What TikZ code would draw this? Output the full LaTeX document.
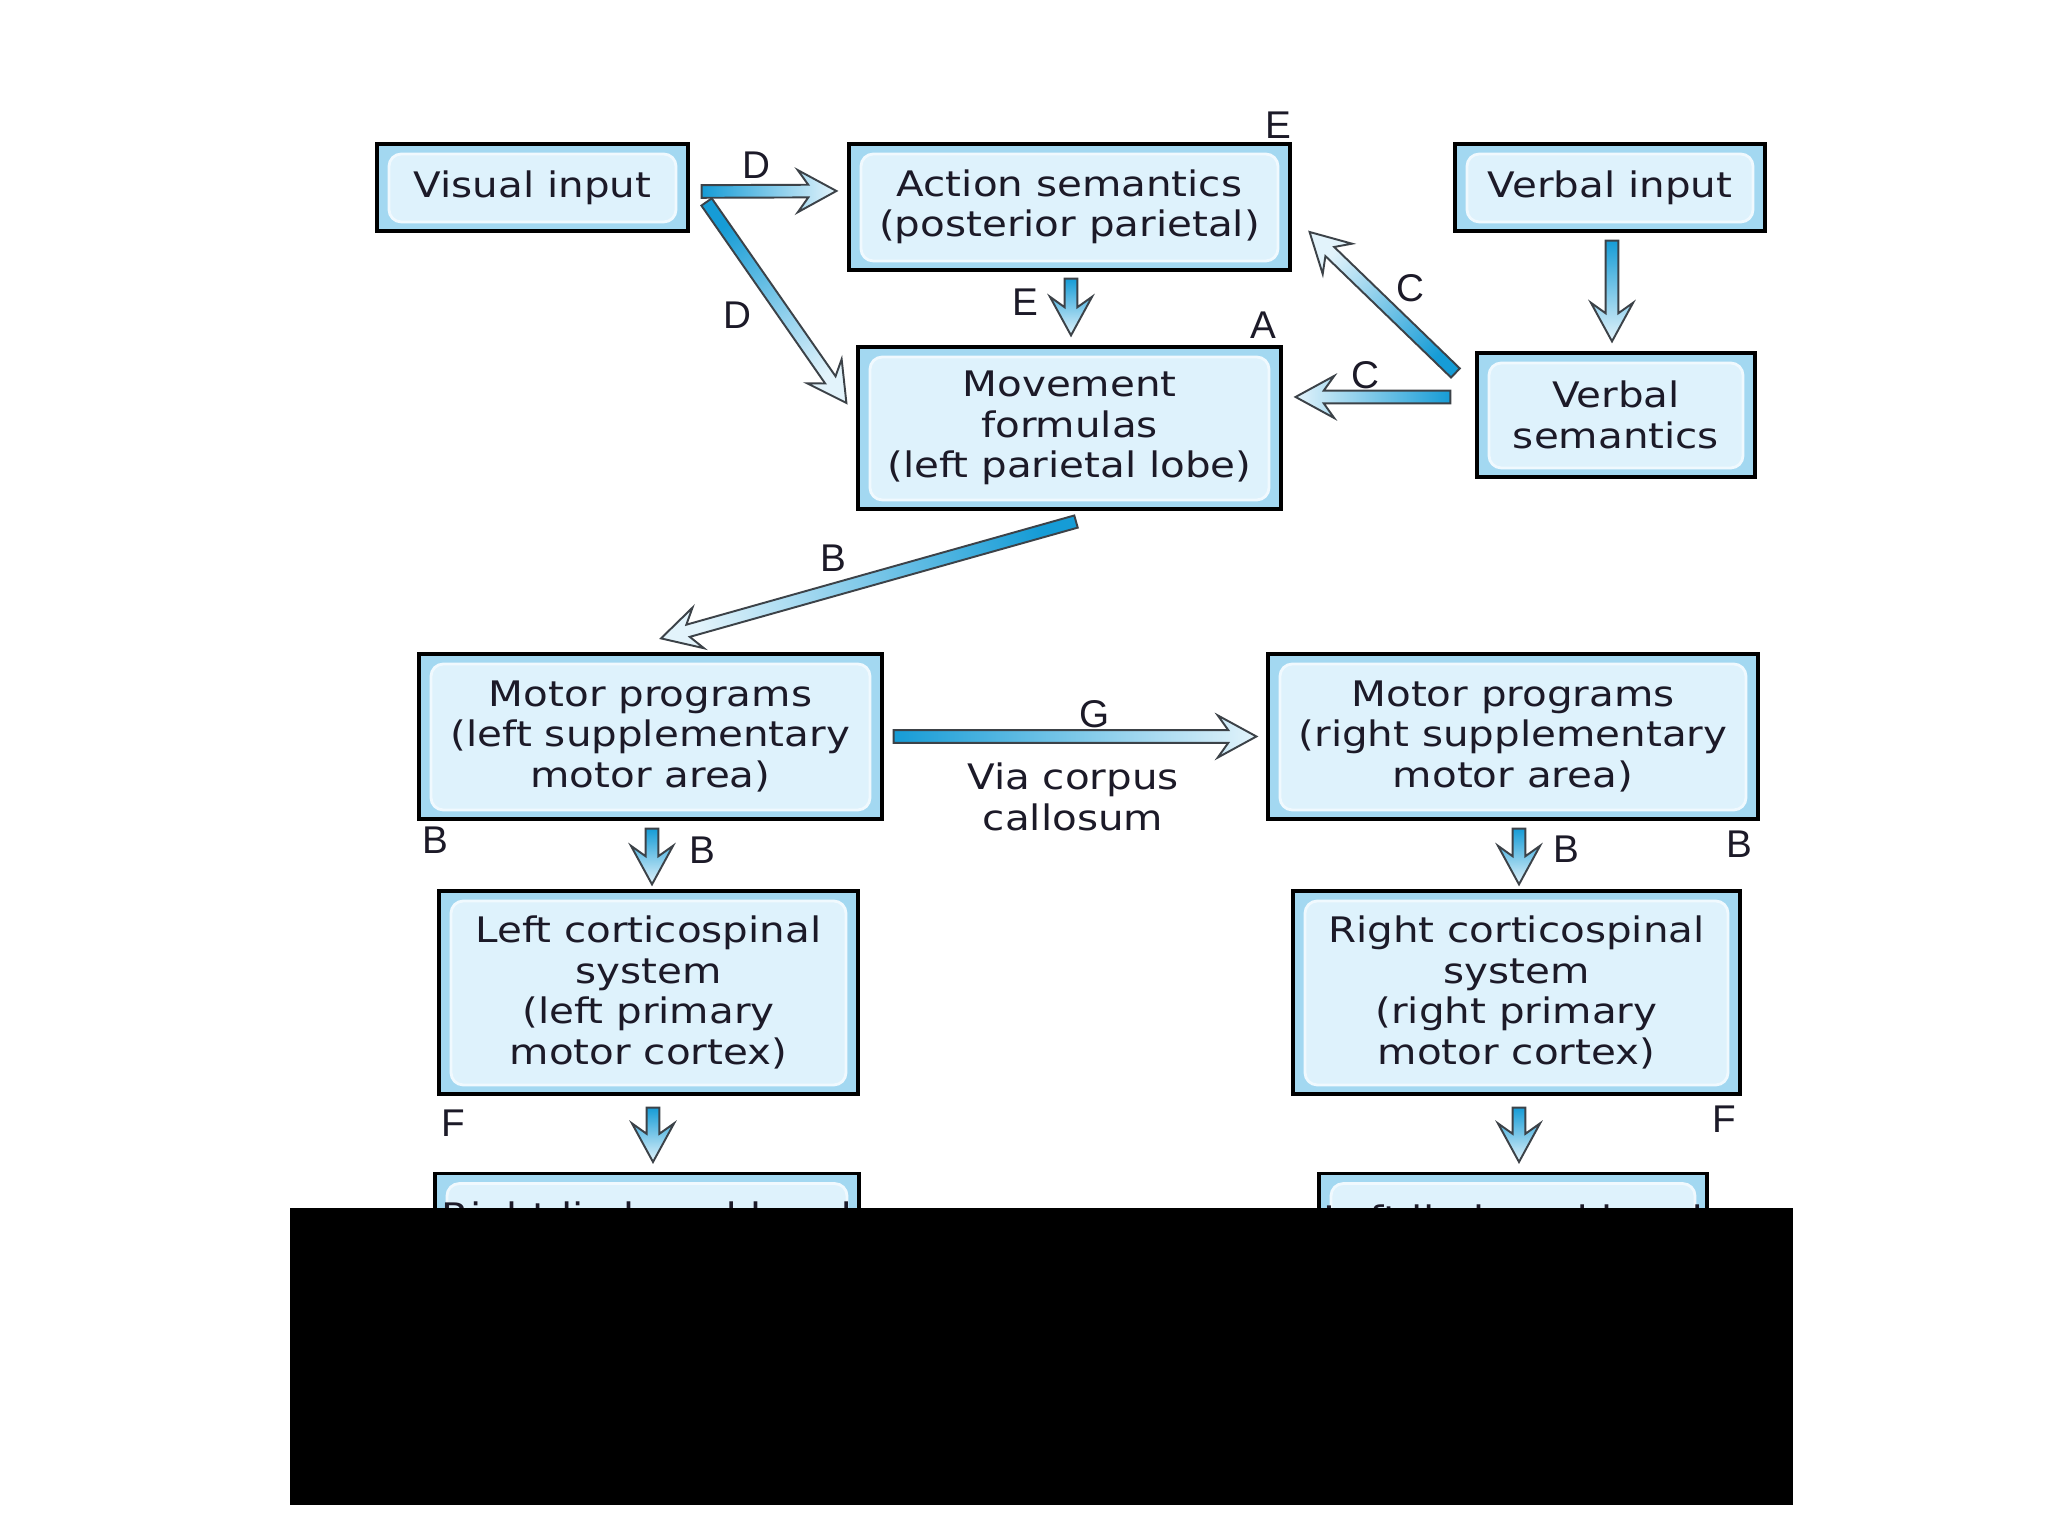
\documentclass[tikz,border=0pt]{standalone}
\usepackage{fontspec}
\usepackage{tikz}
\usetikzlibrary{positioning,calc}
\newfontfamily\boxfont{DejaVu Sans}[FakeStretch=1.15]
\newfontfamily\lblfont{Liberation Sans}
\definecolor{boxedge}{RGB}{163,216,241}
\definecolor{boxin}{RGB}{222,242,252}
\definecolor{boxrim}{RGB}{240,249,254}
\definecolor{arrdark}{RGB}{22,156,214}
\definecolor{arrpale}{RGB}{226,243,251}
\definecolor{arrline}{RGB}{60,66,72}
\definecolor{txt}{RGB}{28,26,40}
% fat shaded arrow between two points
\newcommand{\fatarrow}[2]{%
	\coordinate (fa-s) at (#1);
	\coordinate (fa-e) at (#2);
	\coordinate (fa-b) at ($(fa-e)!11pt!(fa-s)$);
	\coordinate (fa-n) at ($(fa-e)!8pt!(fa-s)$);
	\pgfmathanglebetweenpoints{\pgfpointanchor{fa-s}{center}}{\pgfpointanchor{fa-e}{center}}%
	\pgfmathsetmacro{\faang}{\pgfmathresult+90}%
	\draw[fatline, shading angle=\faang]
	($(fa-s)!1.8pt!90:(fa-e)$) -- ($(fa-n)!1.8pt!90:(fa-e)$)
	-- ($(fa-b)!6pt!90:(fa-e)$) -- (fa-e) -- ($(fa-b)!6pt!-90:(fa-e)$)
	-- ($(fa-n)!1.8pt!-90:(fa-e)$) -- ($(fa-s)!1.8pt!-90:(fa-e)$) -- cycle;
}

\begin{document}
\begin{tikzpicture}[
		box/.style={draw=black, line width=0.9pt, fill=boxedge, align=center,
				inner sep=0pt, text=txt, font=\boxfont\fontsize{10}{11.5}\selectfont,
				path picture={\draw[draw=boxrim, fill=boxin, line width=0.8pt, rounded corners=3.5pt]
						([shift={(1.2mm,-1mm)}]path picture bounding box.north west) rectangle
						([shift={(-1.2mm,0.9mm)}]path picture bounding box.south east);}},
		lbl/.style={font=\lblfont\fontsize{11}{13}\selectfont, text=txt, inner sep=0pt},
		fatline/.style={draw=arrline, line width=0.55pt, line join=miter,
				top color=arrdark, bottom color=arrpale}
		]
		\fill[white] (0,0) rectangle (20.48,15.36);
		\node[box, minimum width=3.11cm, minimum height=0.87cm] (vis) at (5.325,13.485) {Visual input};
		\node[box, minimum width=4.41cm, minimum height=1.26cm] (act) at (10.695,13.29)
		{Action semantics\\(posterior parietal)};
		\node[box, minimum width=3.10cm, minimum height=0.87cm] (verb) at (16.10,13.485) {Verbal input};
		\node[box, minimum width=2.78cm, minimum height=1.24cm] (vsem) at (16.16,11.21) {Verbal\\semantics};
		\node[box, minimum width=4.23cm, minimum height=1.62cm] (move) at (10.695,11.08)
		{Movement\\formulas\\(left parietal lobe)};
		\node[box, minimum width=4.63cm, minimum height=1.65cm] (mpl) at (6.505,7.995)
		{Motor programs\\(left supplementary\\motor area)};
		\node[box, minimum width=4.90cm, minimum height=1.65cm] (mpr) at (15.13,7.995)
		{Motor programs\\(right supplementary\\motor area)};
		\node[box, minimum width=4.19cm, minimum height=2.03cm] (lcs) at (6.485,5.435)
		{Left corticospinal\\system\\(left primary\\motor cortex)};
		\node[box, minimum width=4.47cm, minimum height=2.03cm] (rcs) at (15.165,5.435)
		{Right corticospinal\\system\\(right primary\\motor cortex)};
		\node[box, minimum width=4.24cm, minimum height=0.9cm, anchor=north] (llimb) at (6.47,3.64)
		{Right limb and hand};
		\node[box, minimum width=3.88cm, minimum height=0.9cm, anchor=north] (rlimb) at (15.13,3.64)
		{Left limb and hand};
		% connectors
		\fatarrow{[shift={(1.2mm,-0.4mm)}]vis.east}{[shift={(-1.1mm,1.6mm)}]act.west}
		\fatarrow{[shift={(1.7mm,-1.45mm)}]vis.east}{[shift={(-1mm,2.5mm)}]move.west}
		\fatarrow{[shift={(0.15mm,-0.7mm)}]act.south}{[shift={(0.15mm,1mm)}]move.north}
		\fatarrow{[shift={(0.2mm,-0.8mm)}]verb.south}{[shift={(-0.4mm,1mm)}]vsem.north}
		\fatarrow{[shift={(-2mm,4.2mm)}]vsem.west}{[shift={(1.8mm,-2.5mm)}]act.east}
		\fatarrow{[shift={(-2.5mm,1.8mm)}]vsem.west}{[shift={(1.3mm,3.1mm)}]move.east}
		\fatarrow{[shift={(0.65mm,-1.1mm)}]move.south}{[shift={(1.05mm,1.4mm)}]mpl.north}
		\fatarrow{[xshift=1mm]mpl.east}{[xshift=-1mm]mpr.west}
		\fatarrow{[shift={(0.15mm,-0.8mm)}]mpl.south}{[shift={(0.35mm,0.5mm)}]lcs.north}
		\fatarrow{[shift={(0.6mm,-0.8mm)}]mpr.south}{[shift={(0.25mm,0.5mm)}]rcs.north}
		\fatarrow{[shift={(0.45mm,-1.2mm)}]lcs.south}{[shift={(0.6mm,1mm)}]llimb.north}
		\fatarrow{[shift={(0.25mm,-1.2mm)}]rcs.south}{[shift={(0.6mm,1mm)}]rlimb.north}
		% letters
		\node[lbl] (lD1) at (7.56,13.71) {D};
		\node[lbl] (lD2) at (7.37,12.21) {D};
		\node[lbl] (lE1) at (12.78,14.11) {E};
		\node[lbl] (lE2) at (10.25,12.34) {E};
		\node[lbl] (lA) at (12.63,12.11) {A};
		\node[lbl] (lC1) at (14.10,12.48) {C};
		\node[lbl] (lC2) at (13.65,11.61) {C};
		\node[lbl] (lB1) at (8.33,9.78) {B};
		\node[lbl] (lG) at (10.95,8.22) {G};
		\node[align=center, inner sep=0pt, text=txt, font=\boxfont\fontsize{10}{11.5}\selectfont]
		(via) at (10.73,7.39) {Via corpus\\callosum};
		\node[lbl] (lB2) at (4.35,6.96) {B};
		\node[lbl] (lB3) at (7.02,6.86) {B};
		\node[lbl] (lB4) at (15.66,6.87) {B};
		\node[lbl] (lB5) at (17.39,6.92) {B};
		\node[lbl] (lF1) at (4.53,4.13) {F};
		\node[lbl] (lF2) at (17.24,4.17) {F};
		% black band over the lower part
		\fill[black] (2.90,0.31) rectangle (17.93,3.28);
	\end{tikzpicture}
\end{document}
